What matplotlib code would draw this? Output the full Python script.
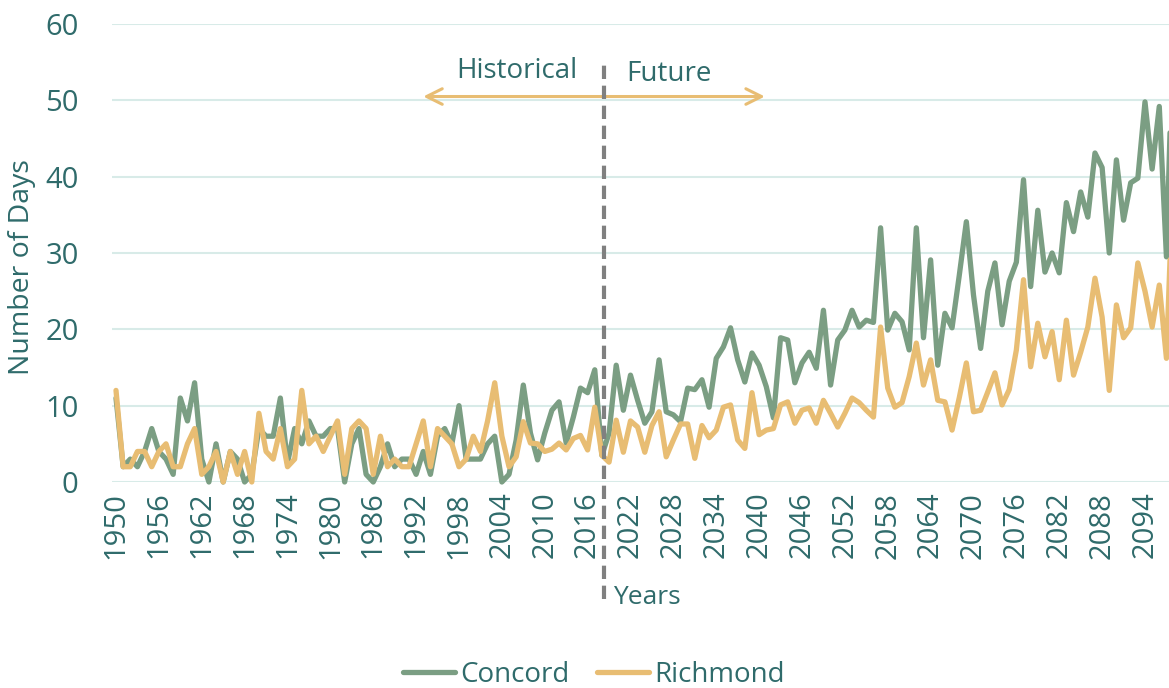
import matplotlib
matplotlib.use("Agg")
import matplotlib.pyplot as plt
import numpy as np

years = list(range(1950, 2099))

concord = [11, 2, 3, 2, 4, 7, 4, 3, 1, 11, 8, 13, 3, 0, 5, 0, 4, 3, 0, 1,
           7, 6, 6, 11, 2.5, 7, 5, 8, 6, 6, 7, 7, 0, 5, 7, 1, 0, 2, 5, 2,
           3, 3, 1, 4, 1, 6, 7, 5, 10, 3, 3, 3, 5, 6, 0, 1, 5.5, 12.7, 6.4, 2.9,
           6.4, 9.4, 10.5, 5.1, 8.5, 12.3, 11.7, 14.7, 3.5, 6.4, 15.3, 9.4, 14, 10.7, 7.7, 9.2,
           16, 9.2, 8.8, 7.9, 12.3, 12.1, 13.4, 9.8, 16.2, 17.7, 20.2, 16, 13.1, 16.9, 15.3, 12.5,
           8.4, 18.9, 18.6, 13, 15.6, 17, 14.9, 22.5, 12.7, 18.6, 19.9, 22.5, 20.3, 21.2, 20.9, 33.3,
           19.9, 22.1, 21, 17.3, 33.3, 18.9, 29.1, 15.3, 22.1, 20.2, 27, 34.1, 24.5, 17.5, 25, 28.7,
           20.6, 26.3, 28.8, 39.6, 25.6, 35.6, 27.5, 30, 27.4, 36.6, 32.8, 38, 34.7, 43.1, 41.2, 30,
           42.2, 34.3, 39.2, 39.8, 49.8, 41, 49.2, 29.5, 62]

richmond = [12, 2, 2, 4, 4, 2, 4, 5, 2, 2, 5, 7, 1, 2, 4, 0, 4, 1, 4, 0,
            9, 4, 3, 7, 2, 3, 12, 5, 6, 4, 6, 8, 1, 7, 8, 7, 1, 6, 2, 3,
            2, 2, 5, 8, 2, 7, 6, 5, 2, 3, 6, 4, 8, 13, 6, 2, 3.3, 7.9, 5.1, 5,
            4, 4.3, 5.1, 4.2, 5.7, 6.1, 4.2, 9.8, 3.5, 2.6, 8.1, 3.9, 8, 7.2, 3.9, 7.4,
            9.2, 3.3, 5.5, 7.6, 7.6, 3.1, 7.4, 5.8, 6.8, 9.8, 10.1, 5.5, 4.4, 11.7, 6.2, 6.8,
            7, 10.1, 10.5, 7.7, 9.4, 9.7, 7.7, 10.7, 9, 7.2, 9, 11, 10.4, 9.4, 8.5, 20.3,
            12.3, 9.8, 10.4, 13.8, 18.2, 12.7, 16, 10.7, 10.5, 6.8, 11, 15.6, 9.2, 9.4, 11.8, 14.3,
            10.1, 12.1, 17.3, 26.5, 15.1, 20.8, 16.4, 19.7, 13.4, 21.2, 14, 17, 20.3, 26.7, 21.6, 12,
            23.2, 18.9, 20.2, 28.7, 25, 20.3, 25.8, 16.2, 42]

xtick_years = list(range(1950, 2095, 6))
yticks = [0, 10, 20, 30, 40, 50, 60]

GREEN = "#7b9e83"
TAN = "#e8bd73"
TEAL = "#2f6b6b"
GRID = "#d8ebe8"

plt.rcParams['font.family'] = ['Open Sans', 'DejaVu Sans']

W, H = 1169, 688
fig = plt.figure(figsize=(W / 100, H / 100), dpi=100)
ax = fig.add_axes([112 / W, 1 - 482 / H, 1 - 112 / W, (482 - 24) / H])

ax.plot(years, concord, color=GREEN, lw=3.8, solid_joinstyle='round',
        solid_capstyle='round', label='Concord', clip_on=False, zorder=3)
ax.plot(years, richmond, color=TAN, lw=3.8, solid_joinstyle='round',
        solid_capstyle='round', label='Richmond', clip_on=False, zorder=4)

ax.set_xlim(1949.44, 2097.36)
ax.set_ylim(0, 60)
ax.set_yticks(yticks)
ax.set_xticks(xtick_years)
ax.set_xticklabels([str(y) for y in xtick_years], rotation=90)
ax.grid(axis='y', color=GRID, lw=1.5)
ax.set_axisbelow(True)
for s in ax.spines.values():
    s.set_visible(False)
ax.tick_params(axis='both', length=0, labelcolor=TEAL, labelsize=21)
ax.tick_params(axis='y', pad=24)
ax.tick_params(axis='x', pad=7)

# dashed divider
ax.plot([2018.3, 2018.3], [-15.3, 55.3], color='#808080', lw=3,
        ls=(0, (3.2, 1.6)), clip_on=False, zorder=5)

# double arrow
ax.annotate('', xy=(1993.0, 50.5), xytext=(2040.8, 50.5),
            arrowprops=dict(arrowstyle='<->', color=TAN, lw=2.2,
                            mutation_scale=28, shrinkA=0, shrinkB=0))
ax.text(2006.1, 53.8, 'Historical', color=TEAL, fontsize=20, ha='center', va='center')
ax.text(2027.4, 53.5, 'Future', color=TEAL, fontsize=20, ha='center', va='center')

fig.text(22 / W, 1 - 267 / H, 'Number of Days', rotation=90, color=TEAL,
         fontsize=20.5, ha='center', va='center')
fig.text(647 / W, 1 - 597 / H, 'Years', color=TEAL, fontsize=19, ha='center', va='center')

leg = fig.legend(loc='center', bbox_to_anchor=(594 / W, 1 - 675 / H), ncol=2,
                 frameon=False, fontsize=20, handlelength=1.85, columnspacing=1.0,
                 handletextpad=0.2)
for t in leg.get_texts():
    t.set_color(TEAL)

fig.savefig('out.png', dpi=100)
